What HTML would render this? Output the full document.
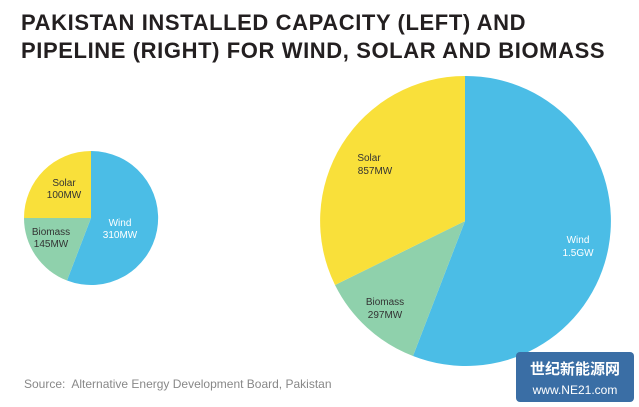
<!DOCTYPE html>
<html><head><meta charset="utf-8"><style>
body{margin:0;background:#fff;width:639px;height:407px;overflow:hidden;font-family:"Liberation Sans","Noto Sans CJK SC",sans-serif}
.t{position:absolute;left:21px;top:9px;font-weight:bold;font-size:22px;line-height:28px;color:#231f20;letter-spacing:0.6px}
.s{position:absolute;left:24px;top:377px;font-size:12px;color:#888}
</style></head><body>
<div class="t">PAKISTAN INSTALLED CAPACITY (LEFT) AND<br>PIPELINE (RIGHT) FOR WIND, SOLAR AND BIOMASS</div>
<svg width="639" height="407" style="position:absolute;left:0;top:0">
<g font-family="Liberation Sans,sans-serif" font-size="10" text-anchor="middle">
<path d="M91,218 L91,151 A67,67 0 1 1 67,280.5 Z" fill="#4bbde6"/>
<path d="M91,218 L67,280.5 A67,67 0 0 1 24,218 Z" fill="#8fd1ac"/>
<path d="M91,218 L24,218 A67,67 0 0 1 91,151 Z" fill="#f9e03a"/>
<text x="64" y="186" fill="#333">Solar</text><text x="64" y="198" fill="#333">100MW</text>
<text x="51" y="235" fill="#333">Biomass</text><text x="51" y="247" fill="#333">145MW</text>
<text x="120" y="226" fill="#fff">Wind</text><text x="120" y="238" fill="#fff">310MW</text>
<path d="M465,221 L465,76 A145,145 0 1 1 413,356 Z" fill="#4bbde6"/>
<path d="M465,221 L413,356 A145,145 0 0 1 335,285 Z" fill="#8fd1ac"/>
<path d="M465,221 L335,285 A145,145 0 0 1 465,76 Z" fill="#f9e03a"/>
<text x="369" y="161" fill="#333">Solar</text><text x="375" y="174" fill="#333">857MW</text>
<text x="385" y="305" fill="#333">Biomass</text><text x="385" y="318" fill="#333">297MW</text>
<text x="578" y="243" fill="#fff">Wind</text><text x="578" y="256" fill="#fff">1.5GW</text>
</g>
<rect x="516" y="352" width="118" height="50" rx="4" fill="#3a6ea5"/>
<text x="575" y="374" font-size="15" font-weight="bold" fill="#fff" text-anchor="middle" font-family="Noto Sans CJK SC,sans-serif">世纪新能源网</text>
<text x="575" y="394" font-size="12" fill="#fff" text-anchor="middle" font-family="Liberation Sans,sans-serif">www.NE21.com</text>
</svg>
<div class="s">Source:&nbsp; Alternative Energy Development Board, Pakistan</div>
</body></html>
